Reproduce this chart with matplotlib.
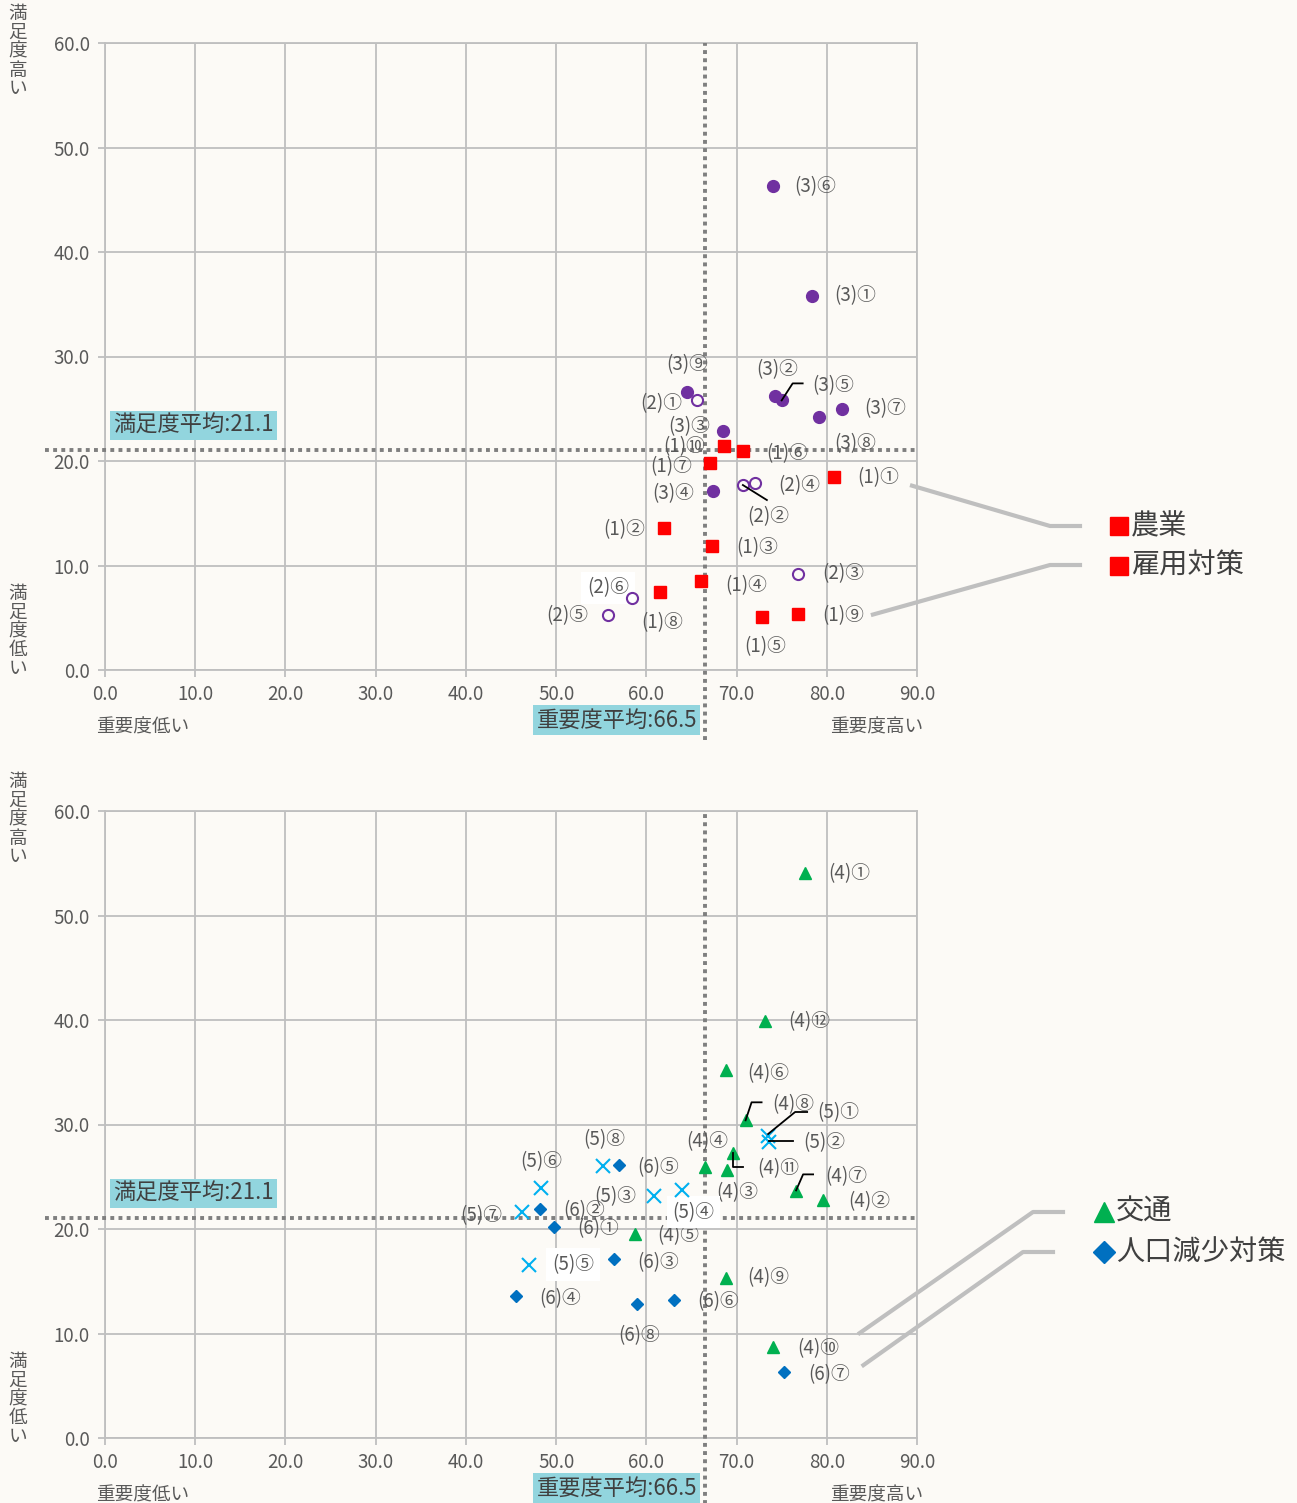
import matplotlib
matplotlib.use("Agg")
import matplotlib.pyplot as plt
from matplotlib.lines import Line2D

plt.rcParams['font.family'] = ['Noto Sans CJK JP', 'DejaVu Sans']

# ---- data ----
avg_importance = 66.5
avg_satisfaction = 21.1
ticks_x = [0, 10, 20, 30, 40, 50, 60, 70, 80, 90]
ticks_y = [0, 10, 20, 30, 40, 50, 60]

agri_labels = ['(1)①', '(1)②', '(1)③', '(1)④', '(1)⑤', '(1)⑥', '(1)⑦', '(1)⑧', '(1)⑨', '(1)⑩']
agri_x = [80.8, 62.0, 67.3, 66.1, 72.8, 70.7, 67.1, 61.5, 76.8, 68.6]
agri_y = [18.5, 13.6, 11.9, 8.5, 5.1, 21.0, 19.8, 7.5, 5.4, 21.4]

s2_labels = ['(2)①', '(2)②', '(2)③', '(2)④', '(2)⑤', '(2)⑥']
s2_x = [65.6, 70.7, 76.8, 72.0, 55.8, 58.4]
s2_y = [25.8, 17.7, 9.2, 17.9, 5.3, 6.9]

s3_labels = ['(3)①', '(3)②', '(3)③', '(3)④', '(3)⑤', '(3)⑥', '(3)⑦', '(3)⑧', '(3)⑨']
s3_x = [78.4, 74.3, 68.5, 67.4, 75.0, 74.0, 81.7, 79.1, 64.5]
s3_y = [35.8, 26.2, 22.9, 17.1, 25.8, 46.3, 25.0, 24.2, 26.6]

traffic_labels = ['(4)①', '(4)②', '(4)③', '(4)④', '(4)⑤', '(4)⑥', '(4)⑦', '(4)⑧', '(4)⑨', '(4)⑩', '(4)⑪', '(4)⑫']
traffic_x = [77.6, 79.6, 68.9, 66.5, 58.7, 68.8, 76.6, 71.0, 68.8, 74.0, 69.6, 73.2]
traffic_y = [54.1, 22.8, 25.6, 25.9, 19.5, 35.2, 23.6, 30.4, 15.3, 8.7, 27.3, 39.9]

s5_labels = ['(5)①', '(5)②', '(5)③', '(5)④', '(5)⑤', '(5)⑥', '(5)⑦', '(5)⑧']
s5_x = [73.5, 73.6, 60.9, 64.0, 47.0, 48.3, 46.2, 55.2]
s5_y = [28.9, 28.3, 23.2, 23.7, 16.6, 23.9, 21.6, 26.0]

pop_labels = ['(6)①', '(6)②', '(6)③', '(6)④', '(6)⑤', '(6)⑥', '(6)⑦', '(6)⑧']
pop_x = [49.8, 48.2, 56.4, 45.6, 57.0, 63.1, 75.3, 59.0]
pop_y = [20.2, 21.9, 17.1, 13.6, 26.1, 13.2, 6.3, 12.8]

# ---- layout: label offsets in pixels (dx, dy downwards, alignment) ----
label_pos = {
    '(3)⑥': (22, 0, 'left'), '(3)①': (22, 0, 'left'), '(3)⑨': (0, -27, 'center'),
    '(3)②': (2, -27, 'center'), '(3)⑤': (31, -15, 'left'), '(3)⑦': (22, 0, 'left'),
    '(3)⑧': (16, 27, 'left'), '(3)③': (-13, -4, 'right'), '(3)④': (-19, 2, 'right'),
    '(2)①': (-15, 3, 'right'), '(2)②': (4, 32, 'left'), '(2)④': (24, 3, 'left'),
    '(2)③': (24, 0, 'left'), '(2)⑥': (-3, -10, 'right'), '(2)⑤': (-20, 1, 'right'),
    '(1)⑩': (-19, 0, 'right'), '(1)⑥': (23, 3, 'left'), '(1)⑦': (-18, 4, 'right'),
    '(1)①': (23, 1, 'left'), '(1)②': (-19, 2, 'right'), '(1)③': (24, 2, 'left'),
    '(1)④': (24, 4, 'left'), '(1)⑧': (2, 31, 'center'), '(1)⑨': (24, 2, 'left'),
    '(1)⑤': (3, 30, 'center'),
    '(4)①': (23, 1, 'left'), '(4)⑫': (23, 1, 'left'), '(4)⑥': (22, 3, 'left'),
    '(4)⑧': (27, -16, 'left'), '(5)①': (49, -23, 'left'), '(5)②': (34, 0, 'left'),
    '(4)④': (2, -26, 'center'), '(4)⑪': (24, 16, 'left'), '(4)③': (-10, 22, 'left'),
    '(4)⑦': (29, -15, 'left'), '(4)②': (25, 2, 'left'), '(4)⑤': (23, 1, 'left'),
    '(4)⑨': (22, 0, 'left'), '(4)⑩': (25, 2, 'left'), '(6)⑦': (24, 2, 'left'),
    '(6)⑤': (18, 2, 'left'), '(5)⑧': (1, -27, 'center'), '(5)⑥': (0, -27, 'center'),
    '(5)③': (-18, 1, 'right'), '(5)④': (-10, 22, 'left'), '(5)⑦': (-20, 3, 'right'),
    '(6)②': (23, 1, 'left'), '(6)①': (23, 2, 'left'), '(5)⑤': (23, 0, 'left'),
    '(6)③': (23, 3, 'left'), '(6)④': (23, 3, 'left'), '(6)⑧': (2, 31, 'center'),
    '(6)⑥': (23, 2, 'left'),
}
white_bg = ['(2)⑥', '(5)④', '(5)⑤']
# leader lines: pixel offsets from the marker (dy downwards)
leaders = {
    '(3)⑤': [(0, 0), (11, -17), (21, -17)],
    '(2)②': [(0, 0), (24, 15)],
    '(4)⑧': [(0, 0), (6, -18), (16, -18)],
    '(5)①': [(0, -2), (27, -24), (39, -24)],
    '(5)②': [(0, -1), (24, -1)],
    '(4)⑪': [(0, 0), (0, 14), (10, 14)],
    '(4)⑦': [(0, -1), (7, -17), (17, -17)],
}

BG = '#FCFAF6'
GRID = '#BFBFBF'
TXT = '#595959'
W, H = 1297, 1503
LABEL_FS = 13.5
TICK_FS = 13.5
CAP_FS = 13.4
LEG_FS = 20.3
AVG_FS = 16

fig = plt.figure(figsize=(W / 100, H / 100), dpi=100, facecolor=BG)


def px(x, y):
    # image pixel (top-left origin) -> figure fraction
    return x / W, 1 - y / H


def make_axes(top_px):
    l, t = px(105, top_px)
    r, b = px(917, top_px + 627)
    ax = fig.add_axes([l, b, r - l, t - b])
    ax.set_facecolor(BG)
    ax.set_xlim(0, 90)
    ax.set_ylim(0, 60)
    ax.set_xticks(ticks_x)
    ax.set_yticks(ticks_y)
    ax.set_xticklabels(['%.1f' % v for v in ticks_x])
    ax.set_yticklabels(['%.1f' % v for v in ticks_y])
    ax.grid(True, color=GRID, lw=1.3)
    ax.set_axisbelow(True)
    for s in ax.spines.values():
        s.set_color(GRID)
        s.set_linewidth(1.3)
    ax.tick_params(colors=GRID, labelcolor=TXT, labelsize=TICK_FS, length=5, width=1.3)
    ax.tick_params(axis='x', pad=5)
    ax.tick_params(axis='y', pad=6)

    # average lines
    ax.axhline(avg_satisfaction, xmin=-0.074, xmax=1, color='#7F7F7F', lw=2.8,
               ls=(0, (1, 1.1)), clip_on=False, zorder=3)
    ax.axvline(avg_importance, ymin=-0.112, ymax=1, color='#7F7F7F', lw=2.8,
               ls=(0, (1, 1.1)), clip_on=False, zorder=3)
    box = dict(boxstyle='square,pad=0.14', fc='#92D5DE', ec='none')
    ax.annotate('満足度平均:%.1f' % avg_satisfaction, (0, avg_satisfaction),
                xytext=(8, 24), textcoords='offset pixels', ha='left', va='center',
                fontsize=AVG_FS, color='#404040', bbox=box, annotation_clip=False)
    ax.annotate('重要度平均:%.1f' % avg_importance, (avg_importance, 0),
                xytext=(-8, -50), textcoords='offset pixels', ha='right', va='center',
                fontsize=AVG_FS, color='#404040', bbox=box, annotation_clip=False)

    # axis captions
    ax.annotate('重要度低い', (0, 0), xytext=(-9, -57), textcoords='offset pixels',
                ha='left', va='center', fontsize=CAP_FS, color=TXT, annotation_clip=False)
    ax.annotate('重要度高い', (90, 0), xytext=(6, -57), textcoords='offset pixels',
                ha='right', va='center', fontsize=CAP_FS, color=TXT, annotation_clip=False)
    ax.annotate('満\n足\n度\n高\nい', (0, 60), xytext=(-87, 38), textcoords='offset pixels',
                ha='center', va='top', fontsize=CAP_FS, color=TXT, linespacing=1.06,
                annotation_clip=False)
    ax.annotate('満\n足\n度\n低\nい', (0, 0), xytext=(-87, -8), textcoords='offset pixels',
                ha='center', va='bottom', fontsize=CAP_FS, color=TXT, linespacing=1.06,
                annotation_clip=False)
    return ax


def label_points(ax, labels, xs, ys):
    for lab, x, y in zip(labels, xs, ys):
        dx, dy, ha = label_pos[lab]
        kw = {}
        if lab in white_bg:
            kw['bbox'] = dict(boxstyle='square,pad=0.3', fc='white', ec='none')
        ax.annotate(lab, (x, y), xytext=(dx, -dy), textcoords='offset pixels',
                    ha=ha, va='center', fontsize=LABEL_FS, color=TXT, zorder=4, **kw)
        if lab in leaders:
            cx, cy = ax.transData.transform((x, y))
            pts = leaders[lab]
            fig.add_artist(Line2D([cx + p[0] for p in pts], [cy - p[1] for p in pts],
                                  transform=None, color='black', lw=1.3, zorder=6))


def legend_item(xm, ym, marker, ms, color, text):
    fx, fy = px(xm, ym)
    fig.add_artist(Line2D([fx], [fy], marker=marker, ms=ms, color=color, mec=color,
                          ls='none', transform=fig.transFigure))
    tx, _ = px(xm + 12, ym)
    fig.text(tx, fy, text, ha='left', va='center', fontsize=LEG_FS, color='#404040')


def legend_link(ax, x, y, off, end_px):
    cx, cy = ax.transData.transform((x, y))
    sx, sy = cx + off[0], cy - off[1]
    ex1, ey1 = end_px[0], H - end_px[1]
    fig.add_artist(Line2D([sx, ex1, ex1 + 30], [sy, ey1, ey1], transform=None,
                          color=GRID, lw=3))


# ---- top chart ----
ax1 = make_axes(43)
ax1.plot(s2_x, s2_y, 'o', ms=8, mfc='none', mec='#7030A0', mew=1.5, zorder=5)
ax1.plot(s3_x, s3_y, 'o', ms=8.5, color='#7030A0', zorder=5)
ax1.plot(agri_x, agri_y, 's', ms=8.5, color='#FF0000', zorder=5)
label_points(ax1, agri_labels, agri_x, agri_y)
label_points(ax1, s2_labels, s2_x, s2_y)
label_points(ax1, s3_labels, s3_x, s3_y)

legend_link(ax1, agri_x[0], agri_y[0], (78, 9), (1050, 526))
legend_link(ax1, agri_x[8], agri_y[8], (75, 1), (1050, 565))
legend_item(1119, 526, 's', 13, '#FF0000', '農業')
legend_item(1119, 566, 's', 13, '#FF0000', '雇用対策')

# ---- bottom chart ----
ax2 = make_axes(811)
ax2.plot(s5_x, s5_y, 'x', ms=10, mew=1.5, color='#00B0F0', zorder=5)
ax2.plot(pop_x, pop_y, 'D', ms=6.5, color='#0070C0', zorder=5)
ax2.plot(traffic_x, traffic_y, '^', ms=9, color='#00B050', zorder=5)
label_points(ax2, traffic_labels, traffic_x, traffic_y)
label_points(ax2, s5_labels, s5_x, s5_y)
label_points(ax2, pop_labels, pop_x, pop_y)

legend_link(ax2, traffic_x[9], traffic_y[9], (87, -14), (1033, 1212))
legend_link(ax2, pop_x[6], pop_y[6], (79, -7), (1023, 1252))
legend_item(1104, 1212, '^', 15, '#00B050', '交通')
legend_item(1104, 1252, 'D', 11, '#0070C0', '人口減少対策')

fig.savefig('out.png', dpi=100, facecolor=BG)
